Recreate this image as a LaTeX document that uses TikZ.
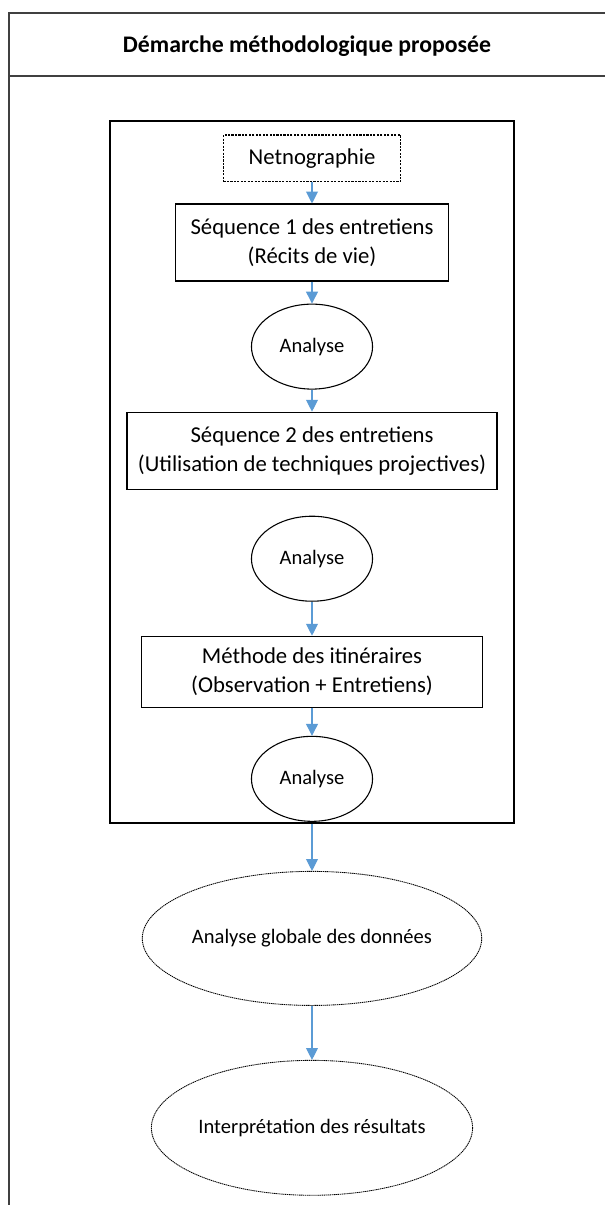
\documentclass[tikz,border=0pt]{standalone}
\usepackage{fontspec}
\setmainfont{Carlito}
\usetikzlibrary{positioning,shapes.geometric,arrows.meta}
\definecolor{arrowblue}{HTML}{5B9BD5}
\definecolor{rulegray}{HTML}{404040}
\tikzstyle{arrow} = [arrowblue, line width=0.5pt, -{Triangle[width=5.5pt,length=5.5pt]}]
\tikzstyle{stepbox} = [draw, line width=0.5pt, align=center, minimum height=35.6pt, font=\fontsize{10.5}{13.4}\selectfont]
\tikzstyle{analyse} = [draw, ellipse, line width=0.5pt, inner sep=0pt, minimum width=56pt, minimum height=39.3pt, font=\fontsize{9.5}{11.5}\selectfont]
\tikzstyle{bigoval} = [draw, ellipse, line width=0.4pt, dash pattern=on 0.6pt off 0.3pt, inner sep=0pt, minimum width=141.5pt, minimum height=62pt, font=\fontsize{9.5}{11.5}\selectfont]
\tikzstyle{tableline} = [rulegray, line width=0.6pt]

\begin{document}
\begin{tikzpicture}[x=0.4625pt, y=-0.4625pt, font=\fontsize{11}{13.4}\selectfont]
  \useasboundingbox (0,0) rectangle (605,1205);

  % table frame and header
  \draw [tableline] (605,13) -- (9,13) -- (9,1205);
  \draw [tableline] (9,76) -- (605,76);
  \node (title) at (307,46) {\bfseries Démarche méthodologique proposée};

  % inner frame
  \node (frame) [draw, line width=0.6pt, minimum width=186.9pt, minimum height=324.7pt] at (312,472) {};

  \node (netno) [stepbox, dash pattern=on 1pt off 0.6pt, minimum width=81.9pt, minimum height=21.7pt] at (312,158.5) {Netnographie};

  \node (seq1) [stepbox, minimum width=126.3pt, below=9.7pt of netno] {Séquence 1 des entretiens\\(Récits de vie)};
  \draw [arrow] (netno) -- (seq1);

  \node (ana1) [analyse, below=10.2pt of seq1] {Analyse};
  \draw [arrow] (seq1) -- (ana1);

  \node (seq2) [stepbox, minimum width=171.1pt, below=10.2pt of ana1] {Séquence 2 des entretiens\\(Utilisation de techniques projectives)};
  \draw [arrow] (ana1) -- (seq2);

  \node (ana2) [analyse, below=12pt of seq2] {Analyse};

  \node (meth) [stepbox, minimum width=157.3pt, minimum height=32.8pt, below=15.7pt of ana2] {Méthode des itinéraires\\(Observation + Entretiens)};
  \draw [arrow] (ana2) -- (meth);

  \node (ana3) [analyse, below=13pt of meth] {Analyse};
  \draw [arrow] (meth) -- (ana3);

  % outside the inner frame
  \node (global) [bigoval, below=22.7pt of ana3] {Analyse globale des données};
  \draw [arrow] (ana3.south |- frame.south) -- (global);

  \node (interp) [bigoval, minimum height=62.4pt, below=25pt of global] {Interprétation des résultats};
  \draw [arrow] (global) -- (interp);

\end{tikzpicture}
\end{document}
